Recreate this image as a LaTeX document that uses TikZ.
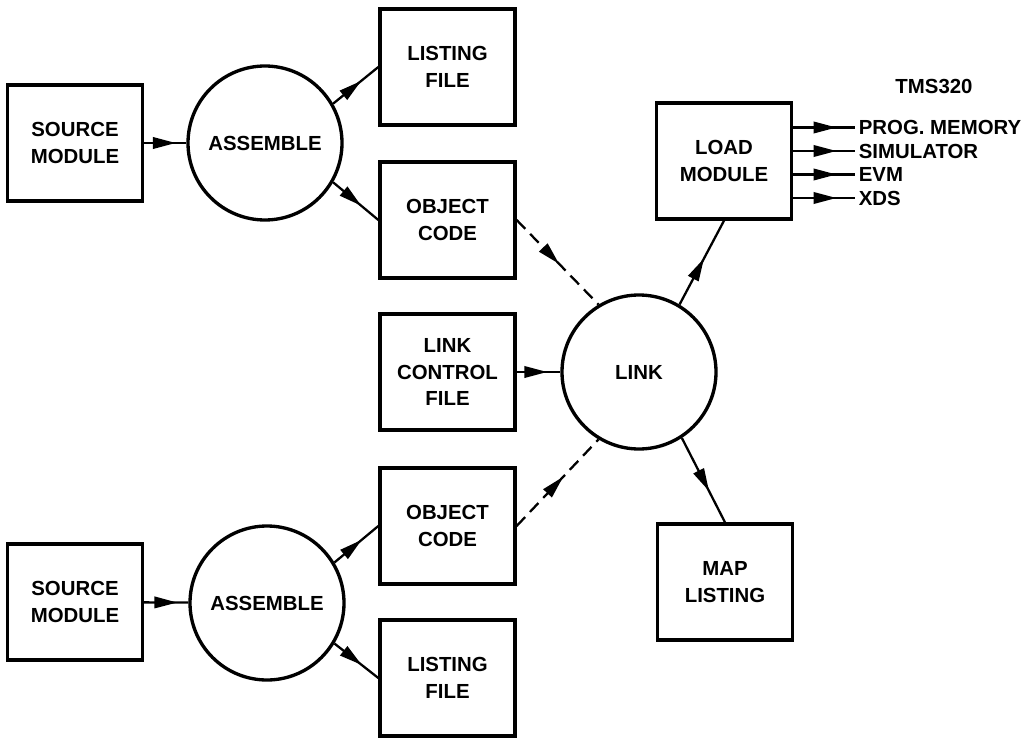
\documentclass[tikz,border=0pt]{standalone}
\usepackage{fontspec}
\setmainfont{Liberation Sans}
\usetikzlibrary{arrows.meta,decorations.markings}

\tikzset{
    txt/.style={font=\bfseries\fontsize{11.6}{15}\selectfont},
    box/.style={txt,draw,line width=1.9pt,minimum width=2.7cm,minimum height=2.32cm,align=center},
    proc/.style={txt,draw,circle,line width=1.9pt,minimum size=3.08cm,align=center},
    flow/.style={line width=1.3pt,postaction={decorate},
        decoration={markings,mark=at position #1 with {\arrow{Triangle[length=13pt,width=6.5pt]}}}},
    flow/.default=0.6,
    dashflow/.style={flow=#1,dash pattern=on 7pt off 4pt},
    outlbl/.style={txt,anchor=west,inner xsep=2pt,inner ysep=0pt}
}

\begin{document}
\begin{tikzpicture}
    \useasboundingbox (0,0) rectangle (20.7,14.74);

    % Upper branch
    \node[box] (src1) at (1.5,11.88) {SOURCE\\MODULE};
    \node[proc] (asm1) at (5.3,11.88) {ASSEMBLE};
    \node[box] (lst1) at (8.95,13.4) {LISTING\\FILE};
    \node[box] (obj1) at (8.95,10.34) {OBJECT\\CODE};

    % Lower branch
    \node[box] (src2) at (1.5,2.7) {SOURCE\\MODULE};
    \node[proc] (asm2) at (5.34,2.68) {ASSEMBLE};
    \node[box] (obj2) at (8.95,4.22) {OBJECT\\CODE};
    \node[box] (lst2) at (8.95,1.18) {LISTING\\FILE};

    % Linker
    \node[box] (ctl) at (8.95,7.3) {LINK\\CONTROL\\FILE};
    \node[proc] (link) at (12.78,7.3) {LINK};
    \node[box] (load) at (14.48,11.52) {LOAD\\MODULE};
    \node[box] (map) at (14.5,3.1) {MAP\\LISTING};
    \node[txt] (tms) at (18.68,13.0) {TMS320};

    % Assembling
    \draw[flow=0.75] (src1) -- (asm1);
    \draw[flow=0.62] (asm1.30) -- (lst1.west);
    \draw[flow=0.62] (asm1.-30) -- (obj1.west);
    \draw[flow=0.75] (src2) -- (asm2);
    \draw[flow=0.62] (asm2.31) -- (obj2.west);
    \draw[flow=0.62] (asm2.-31) -- (lst2.west);

    % Linking
    \draw[dashflow=0.52] (obj1.east) -- (link.121);
    \draw[dashflow=0.57] (obj2.east) -- (link.239);
    \draw[flow=0.7] (ctl.east) -- (link.west);
    \draw[flow=0.55] (link.59) -- (load.south);
    \draw[flow=0.63] (link.-57) -- (map.north);

    % Targets
    \foreach \name/\y/\lbl in {pm/12.19/PROG. MEMORY, sim/11.72/SIMULATOR, evm/11.25/EVM, xds/10.78/XDS} {
        \node[outlbl] (\name) at (17.1,\y) {\lbl};
        \draw[flow=0.7] (load.east |- \name.west) -- (\name.west);
    }
\end{tikzpicture}
\end{document}
